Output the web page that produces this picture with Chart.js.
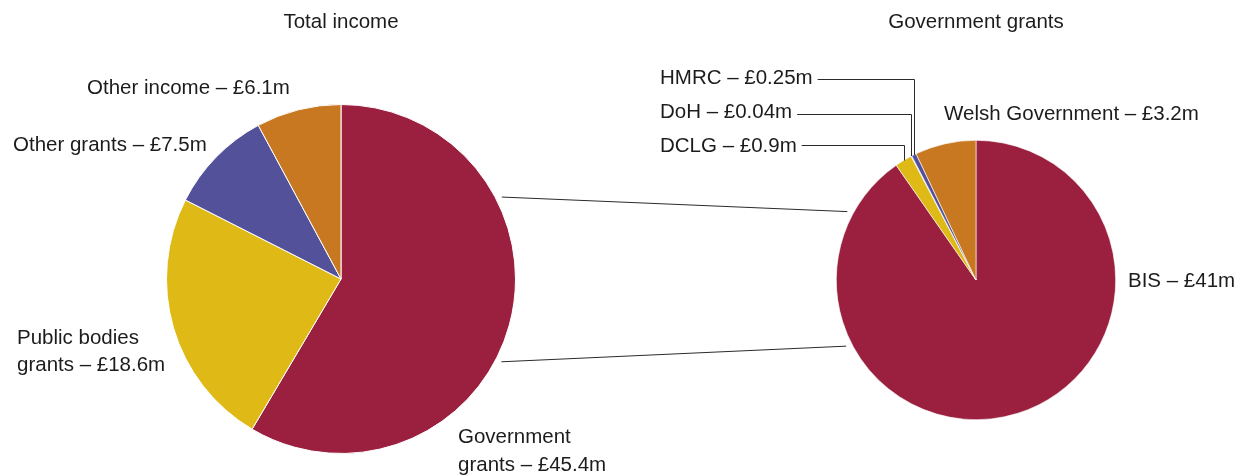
<!DOCTYPE html>
<html>
<head>
<meta charset="utf-8">
<script src="https://cdn.jsdelivr.net/npm/chart.js@4"></script>
<style>
    html, body { margin: 0; padding: 0; background: #fff; }
    #box { position: relative; width: 1240px; height: 476px; }
    #box canvas { position: absolute; left: 0; top: 0; }
</style>
</head>
<body>
<div id="box">
    <canvas id="totalChart" width="1240" height="476"></canvas>
    <canvas id="grantsChart" width="1240" height="476"></canvas>
</div>
<script>
"use strict"

// data (£m)
const totalTitle = "Total income"
const totalLabels = ["Government grants", "Public bodies grants", "Other grants", "Other income"]
const totalValues = [45.4, 18.6, 7.5, 6.1]

const grantsTitle = "Government grants"
const grantsLabels = ["BIS", "DCLG", "DoH", "HMRC", "Welsh Government"]
const grantsValues = [41, 0.9, 0.04, 0.25, 3.2]

const totalColors = ["#9b1f3e", "#dfb915", "#53519a", "#c87820"]
const grantsColors = ["#9b1f3e", "#dfb915", "#d6d6e6", "#53519a", "#c87820"]

const FONT = "20.5px 'Liberation Sans', Arial, sans-serif"
const TEXT_COLOR = "#1c1c1c"
const LINE_COLOR = "#2a2a2a"

function labelText(label, value) {
    return `${label} – £${value}m`
}

// where each label sits: x, baselines (one per line), split point for two line labels
const totalLabelPos = [
    { x: 458, lines: [443, 471], split: "Government" },
    { x: 17, lines: [344, 371], split: "Public bodies" },
    { x: 13, lines: [151] },
    { x: 87, lines: [94] },
]
const grantsLabelPos = [
    { x: 1128, lines: [287] },
    { x: 660, lines: [152], leaderY: 145 },
    { x: 660, lines: [118], leaderY: 114 },
    { x: 660, lines: [84], leaderY: 79 },
    { x: 944, lines: [120] },
]

function drawLabels(ctx, labels, values, positions) {
    ctx.save()
    ctx.font = FONT
    ctx.fillStyle = TEXT_COLOR
    ctx.textAlign = "left"
    ctx.textBaseline = "alphabetic"
    labels.forEach((label, i) => {
        const pos = positions[i]
        const full = labelText(label, values[i])
        if (pos.split) {
            ctx.fillText(pos.split, pos.x, pos.lines[0])
            ctx.fillText(full.slice(pos.split.length + 1), pos.x, pos.lines[1])
        } else {
            ctx.fillText(full, pos.x, pos.lines[0])
        }
    })
    ctx.restore()
}

function drawTitle(ctx, title, x) {
    ctx.save()
    ctx.font = FONT
    ctx.fillStyle = TEXT_COLOR
    ctx.textAlign = "center"
    ctx.fillText(title, x, 28)
    ctx.restore()
}

function arcPoint(arc, angleDeg, extra) {
    const a = angleDeg * Math.PI / 180
    const r = arc.outerRadius + extra
    return { x: arc.x + r * Math.cos(a), y: arc.y + r * Math.sin(a) }
}

const totalPlugin = {
    id: "totalText",
    afterDraw(chart) {
        const ctx = chart.ctx
        const arc = chart.getDatasetMeta(0).data[0]
        drawTitle(ctx, totalTitle, arc.x)
        drawLabels(ctx, totalLabels, totalValues, totalLabelPos)
    }
}

function drawLeaders(chart) {
    const ctx = chart.ctx
    const arcs = chart.getDatasetMeta(0).data
    ctx.save()
    ctx.strokeStyle = LINE_COLOR
    ctx.lineWidth = 1
    ctx.font = FONT
    grantsLabelPos.forEach((pos, i) => {
        if (pos.leaderY === undefined) return
        const el = arcs[i]
        const mid = (el.startAngle + el.endAngle) / 2
        const px = el.x + el.outerRadius * Math.cos(mid)
        const py = el.y + el.outerRadius * Math.sin(mid)
        const textEnd = pos.x + ctx.measureText(labelText(grantsLabels[i], grantsValues[i])).width + 5
        ctx.beginPath()
        ctx.moveTo(textEnd, pos.leaderY + 0.5)
        ctx.lineTo(Math.round(px) + 0.5, pos.leaderY + 0.5)
        ctx.lineTo(Math.round(px) + 0.5, py)
        ctx.stroke()
    })
    ctx.restore()
}

function drawConnectors(chart) {
    const ctx = chart.ctx
    const left = totalChart.getDatasetMeta(0).data[0]
    const right = chart.getDatasetMeta(0).data[0]
    const pairs = [[-27, 208], [27.3, 153]]
    ctx.save()
    ctx.strokeStyle = LINE_COLOR
    ctx.lineWidth = 1
    pairs.forEach(([la, ra]) => {
        const a = arcPoint(left, la, 6)
        const b = arcPoint(right, ra, 6)
        ctx.beginPath()
        ctx.moveTo(a.x, a.y)
        ctx.lineTo(b.x, b.y)
        ctx.stroke()
    })
    ctx.restore()
}

const grantsPlugin = {
    id: "grantsText",
    afterDraw(chart) {
        const ctx = chart.ctx
        const arc = chart.getDatasetMeta(0).data[0]
        drawTitle(ctx, grantsTitle, arc.x)
        drawLabels(ctx, grantsLabels, grantsValues, grantsLabelPos)
        drawLeaders(chart)
        drawConnectors(chart)
    }
}

function pieOptions(padding) {
    return {
        responsive: false,
        animation: false,
        devicePixelRatio: 1,
        layout: { padding: padding },
        plugins: {
            legend: { display: false },
            tooltip: { enabled: false },
        },
    }
}

const totalChart = new Chart(document.getElementById("totalChart").getContext("2d"), {
    type: "pie",
    data: {
        labels: totalLabels,
        datasets: [{
            data: totalValues,
            backgroundColor: totalColors,
            borderColor: "#ffffff",
            borderWidth: 1,
        }]
    },
    options: pieOptions({ left: 166, right: 724, top: 104, bottom: 22 }),
    plugins: [totalPlugin],
})

const grantsChart = new Chart(document.getElementById("grantsChart").getContext("2d"), {
    type: "pie",
    data: {
        labels: grantsLabels,
        datasets: [{
            data: grantsValues,
            backgroundColor: grantsColors,
            borderColor: "#ffffff",
            borderWidth: 0.6,
        }]
    },
    options: pieOptions({ left: 836, right: 124, top: 140, bottom: 56 }),
    plugins: [grantsPlugin],
})
</script>
</body>
</html>
